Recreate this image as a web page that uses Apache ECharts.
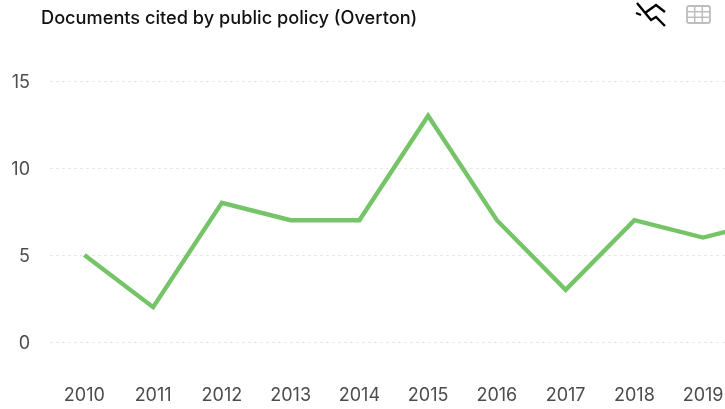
<!DOCTYPE html>
<html>
<head>
<meta charset="utf-8">
<style>
  html, body { margin: 0; padding: 0; background: #fff; overflow: hidden; }
  #chart { width: 725px; height: 409px; }
</style>
<script src="https://cdn.jsdelivr.net/npm/echarts@6/dist/echarts.min.js"></script>
</head>
<body>
<div id="chart"></div>
<script>
// Yearly counts of documents cited by public policy
const years = ['2010','2011','2012','2013','2014','2015','2016','2017','2018','2019','2020'];
const documents = [5, 2, 8, 7, 7, 13, 7, 3, 7, 6, 7];
const yTicks = [0, 5, 10, 15];

const chartTitle = 'Documents cited by public policy (Overton)';
const fontStack = 'Inter, "Noto Sans", sans-serif';
const lineColor = '#76c468';
const tickColor = '#4c4c4c';

const chart = echarts.init(document.getElementById('chart'), null, { renderer: 'canvas' });

// Table toggle icon: rounded frame with a 3x3 grid
const tableIcon = [
  { type: 'rect', shape: { x: 687, y: 6, width: 23, height: 17, r: 2 },
    style: { fill: '#fff', stroke: '#bdbdbd', lineWidth: 1.8 } },
  { type: 'line', shape: { x1: 687, y1: 11.7, x2: 710, y2: 11.7 }, style: { stroke: '#bdbdbd', lineWidth: 1.5 } },
  { type: 'line', shape: { x1: 687, y1: 17.3, x2: 710, y2: 17.3 }, style: { stroke: '#bdbdbd', lineWidth: 1.5 } },
  { type: 'line', shape: { x1: 694.7, y1: 6, x2: 694.7, y2: 23 }, style: { stroke: '#bdbdbd', lineWidth: 1.5 } },
  { type: 'line', shape: { x1: 702.3, y1: 6, x2: 702.3, y2: 23 }, style: { stroke: '#bdbdbd', lineWidth: 1.5 } }
];

// Chart toggle icon: two zigzag lines with a short leading dash
const lineIcon = [
  { type: 'polyline', shape: { points: [[637,3],[651,20],[656,17],[665,26]] },
    style: { fill: null, stroke: '#000', lineWidth: 2.4 } },
  { type: 'polyline', shape: { points: [[645,13],[656,5],[665,12]] },
    style: { fill: null, stroke: '#000', lineWidth: 2.4 } },
  { type: 'line', shape: { x1: 636, y1: 13, x2: 641, y2: 15 }, style: { stroke: '#000', lineWidth: 2.4 } }
];

chart.setOption({
  animation: false,
  backgroundColor: '#ffffff',
  title: {
    text: chartTitle,
    left: 41,
    top: 10,
    padding: 0,
    textStyle: { fontFamily: fontStack, fontSize: 18.2, fontWeight: 500, color: '#111111' }
  },
  // The plot runs past the right edge of the page, so the last years are cut off
  grid: { left: 50, top: 81, width: 756.25, height: 261, containLabel: false, outerBoundsMode: 'none' },
  xAxis: {
    type: 'category',
    data: years,
    boundaryGap: true,
    axisLine: { show: false },
    axisTick: { show: false },
    axisLabel: { margin: 45, color: tickColor, fontFamily: fontStack, fontSize: 18 }
  },
  yAxis: {
    type: 'value',
    min: yTicks[0],
    max: yTicks[yTicks.length - 1],
    interval: 5,
    axisLine: { show: false },
    axisTick: { show: false },
    axisLabel: { margin: 20, verticalAlign: 'top', lineHeight: 3, color: tickColor, fontFamily: fontStack, fontSize: 18 },
    splitLine: { lineStyle: { color: '#e8e8e8', type: [3, 3], width: 1 } }
  },
  series: [{
    type: 'line',
    data: documents,
    showSymbol: false,
    smooth: false,
    lineStyle: { color: lineColor, width: 4.4, join: 'miter' },
    itemStyle: { color: lineColor }
  }],
  graphic: { elements: lineIcon.concat(tableIcon) }
});
</script>
</body>
</html>
